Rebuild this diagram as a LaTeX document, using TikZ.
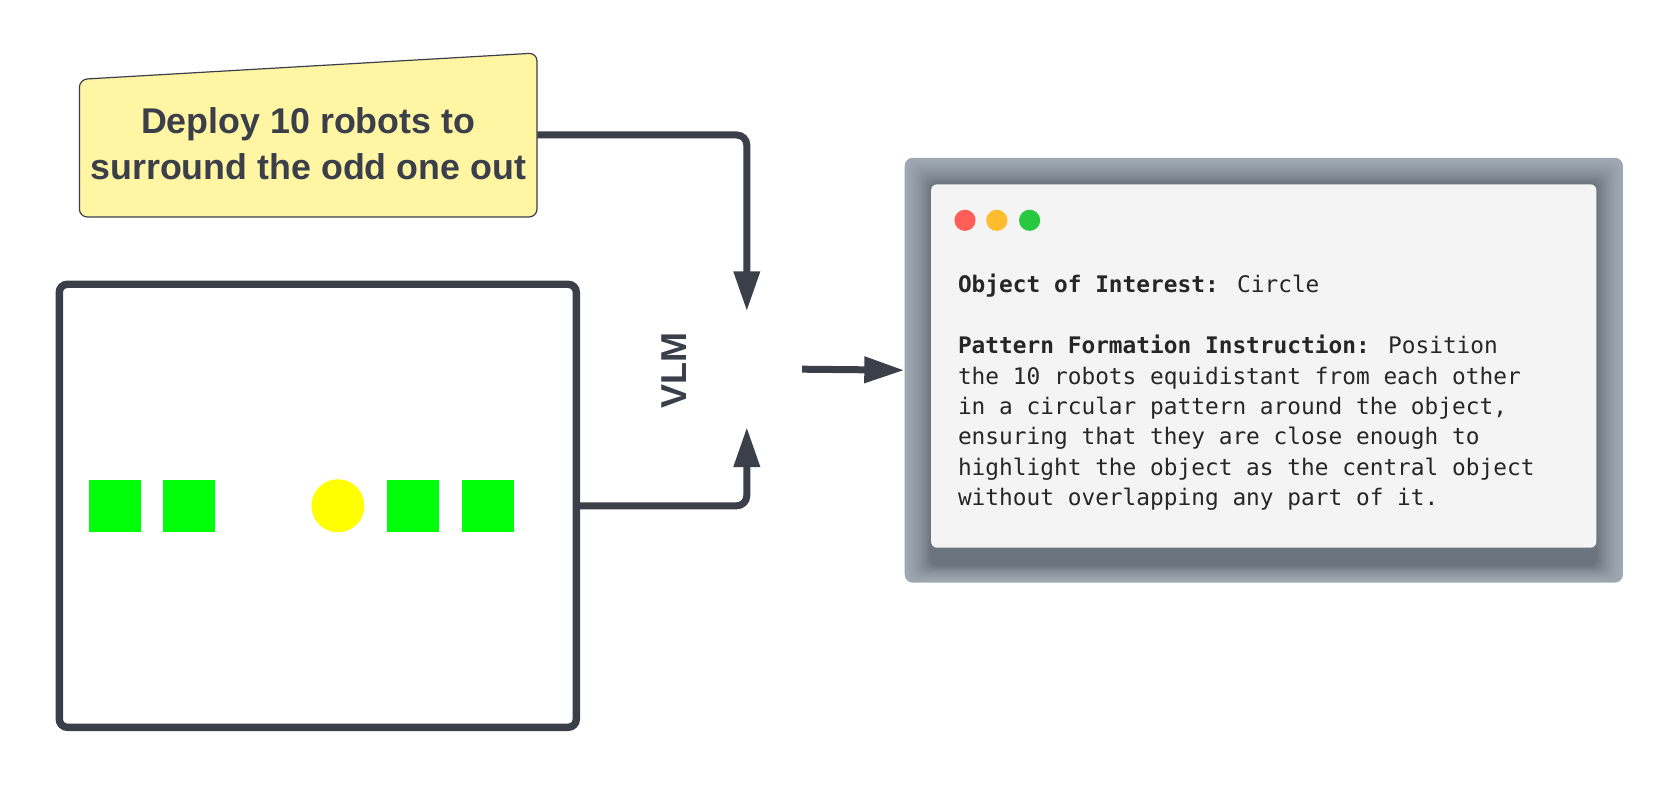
\documentclass[tikz,border=0pt]{standalone}
\usepackage{fontspec}
\setmainfont{Liberation Sans}
\newfontfamily\consfont{DejaVu Sans Mono}
\usetikzlibrary{arrows.meta}
\definecolor{ink}{HTML}{3A3F4A}
\definecolor{notefill}{HTML}{FFF5A3}
\definecolor{robot}{HTML}{00FF0A}
\definecolor{target}{HTML}{FFFF00}
\definecolor{conslight}{HTML}{9EA8B2}
\definecolor{consdark}{HTML}{6C747D}
\definecolor{screen}{HTML}{F4F4F4}
\definecolor{dotred}{HTML}{FF5F57}
\definecolor{dotamber}{HTML}{FEBC2E}
\definecolor{dotgreen}{HTML}{28C840}
\definecolor{monoink}{HTML}{262626}
\begin{document}
\begin{tikzpicture}[x=0.5pt,y=-0.5pt,
  flow/.style={draw=ink, line width=3.5pt, rounded corners=5pt, line cap=butt,
    -{Triangle[length=20pt,width=12.5pt]}},
  robotbox/.style={fill=robot, draw=none, minimum size=26pt, inner sep=0pt},
  targetdot/.style={circle, fill=target, draw=none, minimum size=26.5pt, inner sep=0pt},
  dot/.style={circle, draw=none, minimum size=10.6pt, inner sep=0pt},
  hollow/.style={draw=none, inner sep=0pt}]
\useasboundingbox (0,0) rectangle (1661,791);
\fill[white] (0,0) rectangle (1661,791);

% sticky note
\node[hollow, minimum width=228.8pt, minimum height=82pt] (note) at (308.2,135) {};
\draw[ink, line width=0.6pt, fill=notefill, rounded corners=4pt]
  (79.4,79.4) -- (537,53) -- (537,217) -- (79.4,217) -- cycle;
\node[font=\bfseries\fontsize{17.9pt}{22.75pt}\selectfont, text=ink, align=center]
  (notetext) at (308.2,143.5) {Deploy 10 robots to\\surround the odd one out};

% scene box
\node[draw=ink, line width=3.7pt, rounded corners=4pt, minimum width=258.5pt,
  minimum height=221.5pt, inner sep=0pt] (scene) at (317.8,505.8) {};
\node[robotbox] (r1) at (115,505.8) {};
\node[robotbox] (r2) at (189,505.8) {};
\node[targetdot] (odd) at (337.9,505.8) {};
\node[robotbox] (r3) at (412.5,505.8) {};
\node[robotbox] (r4) at (487.8,505.8) {};

% VLM
\node[font=\bfseries\fontsize{18pt}{20pt}\selectfont, text=ink, rotate=90]
  (vlmlabel) at (673.7,370.8) {VLM};
\node[hollow, minimum width=55pt, minimum height=57.5pt] (hub) at (746.8,369.2) {};

% console window
\node[hollow, minimum width=359.1pt, minimum height=212.4pt] (console) at (1263.8,370.2) {};
\foreach \k in {0,...,26} {
  \pgfmathtruncatemacro\p{100*(\k/26)^1.6}
  \fill[consdark!\p!conslight, rounded corners=4pt]
    (904.7+\k,157.8+\k) rectangle (1622.9-\k,582.6-0.65*\k);
}
\fill[screen, rounded corners=3pt] (931.1,184.3) rectangle (1596.4,547.7);
\node[dot, fill=dotred] (d1) at (965,220.3) {};
\node[dot, fill=dotamber] (d2) at (996.8,220.3) {};
\node[dot, fill=dotgreen] (d3) at (1029.6,220.3) {};
\node[anchor=north west, inner sep=0pt, align=left, text=monoink,
  font=\consfont\fontsize{11.4pt}{15.2pt}\selectfont] (constext) at (957.6,274)
  {\textbf{Object of Interest:} Circle\\[15.2pt]
   \textbf{Pattern Formation Instruction:} Position\\
   the 10 robots equidistant from each other\\
   in a circular pattern around the object,\\
   ensuring that they are close enough to\\
   highlight the object as the central object\\
   without overlapping any part of it.};

% connectors
\draw[flow] (note.east) -| (hub.north);
\draw[flow] (scene.east) -| (hub.south);
\draw[flow] (hub.east) -- (console.west);
\end{tikzpicture}
\end{document}
